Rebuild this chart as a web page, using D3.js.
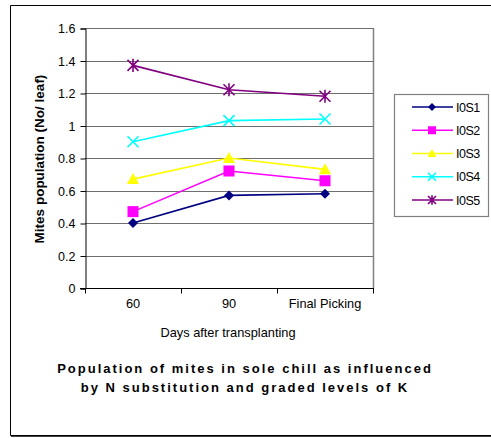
<!DOCTYPE html>
<html>
<head>
<meta charset="utf-8">
<script src="https://cdn.jsdelivr.net/npm/d3@7"></script>
<style>
  body { margin: 0; background: #fff; }
  svg { display: block; font-family: "Liberation Sans", Arial, sans-serif; }
</style>
</head>
<body>
<svg id="chart" width="491" height="438"></svg>
<script>
// Mite counts per leaf at each sampling stage
const stages = ["60", "90", "Final Picking"];
const seriesNames = ["I0S1", "I0S2", "I0S3", "I0S4", "I0S5"];
const i0s1 = [0.40, 0.57, 0.58];
const i0s2 = [0.47, 0.72, 0.66];
const i0s3 = [0.67, 0.80, 0.73];
const i0s4 = [0.90, 1.03, 1.04];
const i0s5 = [1.37, 1.22, 1.18];
const yTicks = [0, 0.2, 0.4, 0.6, 0.8, 1, 1.2, 1.4, 1.6];
const colors = ["#000080", "#ff00ff", "#ffff00", "#00ffff", "#800080"];
const markers = ["diamond", "square", "triangle", "cross", "star"];

const seriesValues = [i0s1, i0s2, i0s3, i0s4, i0s5];
const series = seriesNames.map((name, i) => ({
  name, values: seriesValues[i], color: colors[i], marker: markers[i]
}));

const svg = d3.select("#chart");
const plot = { left: 85, right: 373, top: 28, bottom: 288 };

// Outer frame (open on the right)
svg.append("path")
  .attr("d", `M495,5.5 H10.5 V435.5 H495`)
  .attr("fill", "none").attr("stroke", "#000").attr("stroke-width", 1);
svg.append("line").attr("x1", 11).attr("x2", 495).attr("y1", 436.5).attr("y2", 436.5)
  .attr("stroke", "#444").attr("stroke-width", 1);

const x = d3.scaleBand().domain(stages).range([plot.left, plot.right]);
const y = d3.scaleLinear().domain([0, 1.6]).range([plot.bottom, plot.top]);

// Gridlines
svg.append("g").selectAll("line").data(yTicks.filter(d => d > 0)).join("line")
  .attr("x1", plot.left).attr("x2", plot.right)
  .attr("y1", d => Math.round(y(d)) + 0.5).attr("y2", d => Math.round(y(d)) + 0.5)
  .attr("stroke", "#6e6e6e").attr("stroke-width", 1.2);

// Right edge of plot area
svg.append("line").attr("x1", plot.right + 0.5).attr("x2", plot.right + 0.5)
  .attr("y1", plot.top).attr("y2", plot.bottom)
  .attr("stroke", "#808080").attr("stroke-width", 1.5);

// Y axis
const yAxis = svg.append("g").attr("transform", `translate(${plot.left + 0.5},0.5)`)
  .call(d3.axisLeft(y).tickValues(yTicks).tickSize(5).tickPadding(5)
    .tickFormat(d => d3.format("")(+d.toFixed(1))));
yAxis.select(".domain").attr("stroke", "#000");
yAxis.selectAll(".tick line").attr("stroke", "#000");
yAxis.selectAll("text").attr("font-size", 12.5).attr("fill", "#000")
  .attr("font-family", "Liberation Sans, Arial, sans-serif");

// X axis with ticks on category boundaries
const xAxisG = svg.append("g").attr("transform", `translate(0,${plot.bottom + 0.5})`);
xAxisG.append("line").attr("x1", plot.left - 5).attr("x2", plot.right + 1)
  .attr("stroke", "#000");
const bounds = d3.range(stages.length + 1).map(i => plot.left + i * x.step());
xAxisG.selectAll(".bt").data(bounds).join("line")
  .attr("x1", d => Math.round(d) + 0.5).attr("x2", d => Math.round(d) + 0.5)
  .attr("y1", 0).attr("y2", 5).attr("stroke", "#000");
xAxisG.selectAll("text").data(stages).join("text")
  .attr("x", d => x(d) + x.bandwidth() / 2).attr("y", 19)
  .attr("text-anchor", "middle").attr("font-size", 12.8).text(d => d);

// Axis titles
svg.append("text").attr("x", 228).attr("y", 337).attr("text-anchor", "middle")
  .attr("font-size", 12.8).text("Days after transplanting");
svg.append("text")
  .attr("transform", `translate(44,${(plot.top + plot.bottom) / 2 + 1}) rotate(-90)`)
  .attr("text-anchor", "middle").attr("font-size", 13.5).attr("font-weight", "bold")
  .text("Mites population (No/ leaf)");

// Chart title
const title = svg.append("text").attr("text-anchor", "middle")
  .attr("font-size", 13).attr("font-weight", "bold").attr("letter-spacing", 2);
title.append("tspan").attr("x", 245).attr("y", 373)
  .text("Population of mites in sole chill as influenced");
title.append("tspan").attr("x", 245).attr("y", 392)
  .text("by N substitution and graded levels of K");

// Marker shapes
function drawMarker(g, type, color, size) {
  const s = size;
  if (type === "diamond") {
    g.append("path").attr("d", `M0,${-s} L${s},0 L0,${s} L${-s},0 Z`).attr("fill", color);
  } else if (type === "square") {
    g.append("rect").attr("x", -s).attr("y", -s).attr("width", 2 * s).attr("height", 2 * s)
      .attr("fill", color);
  } else if (type === "triangle") {
    g.append("path").attr("d", `M0,${-s * 1.1} L${s * 1.1},${s * 0.9} L${-s * 1.1},${s * 0.9} Z`)
      .attr("fill", color);
  } else if (type === "cross") {
    g.append("path").attr("d", `M${-s},${-s} L${s},${s} M${-s},${s} L${s},${-s}`)
      .attr("stroke", color).attr("stroke-width", 1.6).attr("fill", "none");
  } else if (type === "star") {
    g.append("path")
      .attr("d", `M${-s},${-s} L${s},${s} M${-s},${s} L${s},${-s} M0,${-s * 1.2} L0,${s * 1.2}`)
      .attr("stroke", color).attr("stroke-width", 1.6).attr("fill", "none");
  }
}
const markerSize = { diamond: 5, square: 5.5, triangle: 5.5, cross: 5.5, star: 5.5 };

// Series lines and markers
const line = d3.line()
  .x((d, i) => x(stages[i]) + x.bandwidth() / 2)
  .y(d => y(d));
series.forEach(s => {
  svg.append("path").datum(s.values).attr("d", line)
    .attr("fill", "none").attr("stroke", s.color).attr("stroke-width", 1.6);
  s.values.forEach((v, i) => {
    const g = svg.append("g")
      .attr("transform", `translate(${x(stages[i]) + x.bandwidth() / 2},${y(v)})`);
    drawMarker(g, s.marker, s.color, markerSize[s.marker]);
  });
});

// Legend
const legend = svg.append("g");
legend.append("rect").attr("x", 394.5).attr("y", 94.5).attr("width", 94).attr("height", 122)
  .attr("fill", "#fff").attr("stroke", "#808080").attr("stroke-width", 1.2);
const ly = d3.scalePoint().domain(seriesNames).range([107, 200]);
series.forEach(s => {
  const cy = ly(s.name);
  legend.append("line").attr("x1", 412).attr("x2", 453).attr("y1", cy).attr("y2", cy)
    .attr("stroke", s.color).attr("stroke-width", 1.6);
  const g = legend.append("g").attr("transform", `translate(432,${cy})`);
  drawMarker(g, s.marker, s.color, 4);
  legend.append("text").attr("x", 456).attr("y", cy + 4.5).attr("font-size", 12.5)
    .attr("letter-spacing", -0.5).text(s.name);
});
</script>
</body>
</html>
